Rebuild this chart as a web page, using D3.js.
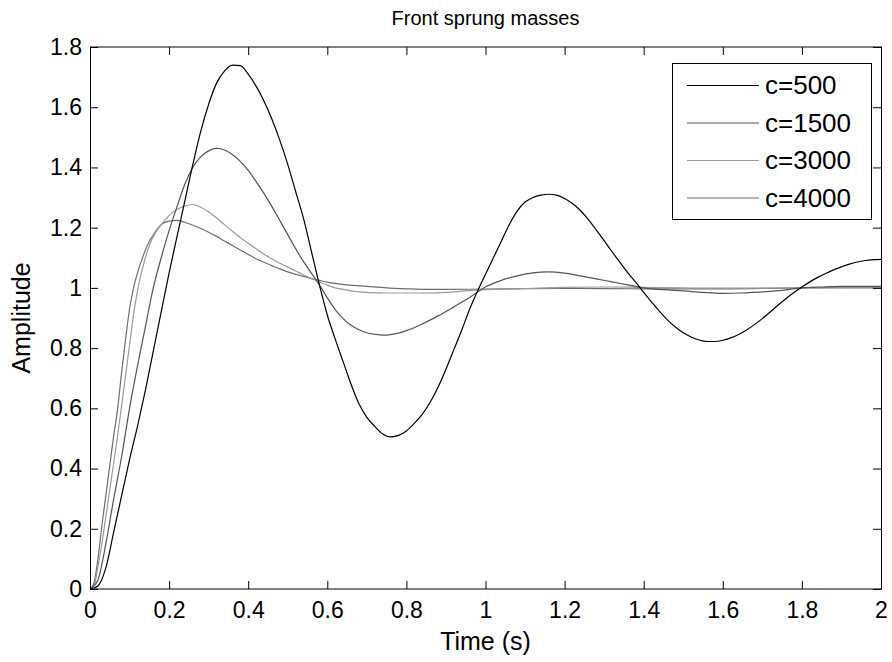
<!DOCTYPE html>
<html>
<head>
<meta charset="utf-8">
<script src="https://cdn.jsdelivr.net/npm/d3@7"></script>
<style>
    body { margin: 0; background: #fff; }
    svg { font-family: "Liberation Sans", Arial, sans-serif; }
    .axis-frame { fill: none; stroke: #000; stroke-width: 1; }
    .tick-mark { stroke: #000; stroke-width: 1; }
    .tick-label { font-size: 23px; fill: #000; }
    .axis-label { font-size: 25px; fill: #000; }
    .chart-title { font-size: 20px; fill: #000; }
    .legend-box { fill: #fff; stroke: #000; stroke-width: 1; }
    .legend-text { font-size: 26px; fill: #000; }
    .resp-line { fill: none; stroke-width: 1.2; }
</style>
</head>
<body>
<div id="chart-area"></div>
<script>

// tick labels
var xTicks = [0, 0.2, 0.4, 0.6, 0.8, 1, 1.2, 1.4, 1.6, 1.8, 2];
var yTicks = [0, 0.2, 0.4, 0.6, 0.8, 1, 1.2, 1.4, 1.6, 1.8];

var seriesNames = ["c=500", "c=1500", "c=3000", "c=4000"];
var seriesColors = ["#000000", "#555555", "#9a9a9a", "#6e6e6e"];

// c=500
var c500Time = [0,0.02,0.04,0.06,0.08,0.10,0.12,0.14,0.16,0.18,0.20,0.22,0.24,0.26,0.28,0.30,0.32,0.34,0.36,0.38,
    0.40,0.42,0.44,0.46,0.48,0.50,0.52,0.54,0.56,0.58,0.60,0.62,0.64,0.66,0.68,0.70,0.72,0.74,0.76,0.78,
    0.80,0.82,0.84,0.86,0.88,0.90,0.92,0.94,0.96,0.98,1.00,1.02,1.04,1.06,1.08,1.10,1.12,1.14,1.16,1.18,
    1.20,1.22,1.24,1.26,1.28,1.30,1.32,1.34,1.36,1.38,1.40,1.42,1.44,1.46,1.48,1.50,1.52,1.54,1.56,1.58,
    1.60,1.62,1.64,1.66,1.68,1.70,1.72,1.74,1.76,1.78,1.80,1.82,1.84,1.86,1.88,1.90,1.92,1.94,1.96,1.98,2.00];
var c500Amp = [0,0.01,0.07,0.19,0.31,0.43,0.54,0.66,0.79,0.92,1.05,1.17,1.29,1.41,1.52,1.61,1.68,1.72,1.74,1.738,
    1.71,1.67,1.62,1.56,1.49,1.41,1.32,1.23,1.12,1.01,0.91,0.83,0.755,0.68,0.615,0.57,0.54,0.515,0.505,0.51,
    0.525,0.55,0.58,0.62,0.67,0.73,0.795,0.86,0.93,0.99,1.045,1.10,1.155,1.21,1.255,1.285,1.30,1.308,1.311,1.308,
    1.297,1.28,1.257,1.227,1.193,1.157,1.12,1.085,1.05,1.018,0.985,0.953,0.922,0.894,0.87,0.851,0.837,0.827,0.822,0.822,
    0.826,0.834,0.845,0.86,0.878,0.898,0.92,0.943,0.965,0.985,1.003,1.02,1.035,1.048,1.06,1.07,1.079,1.086,1.091,1.094,1.095];

// c=1500
var c1500Time = [0,0.02,0.04,0.06,0.08,0.10,0.12,0.14,0.16,0.18,0.20,0.22,0.24,0.26,0.28,0.30,0.32,0.34,0.36,0.38,
    0.40,0.42,0.44,0.46,0.48,0.50,0.52,0.54,0.56,0.58,0.60,0.62,0.64,0.66,0.68,0.70,0.72,0.74,0.76,0.78,
    0.80,0.84,0.88,0.92,0.96,1.00,1.04,1.08,1.12,1.16,1.20,1.24,1.28,1.32,1.36,1.40,1.45,1.50,1.55,1.60,
    1.65,1.70,1.75,1.80,1.85,1.90,1.95,2.00];
var c1500Amp = [0,0.03,0.15,0.30,0.44,0.60,0.74,0.87,1.00,1.10,1.19,1.27,1.345,1.40,1.435,1.455,1.463,1.458,1.443,1.42,
    1.39,1.353,1.313,1.27,1.224,1.177,1.13,1.087,1.048,1.01,0.967,0.928,0.898,0.876,0.861,0.851,0.846,0.843,0.845,0.85,
    0.858,0.88,0.907,0.937,0.968,1.003,1.025,1.04,1.05,1.053,1.049,1.04,1.03,1.02,1.01,1.0,0.994,0.99,0.985,0.982,
    0.983,0.987,0.992,1.0,1.003,1.005,1.005,1.005];

// c=3000
var c3000Time = [0,0.01,0.02,0.03,0.04,0.05,0.06,0.07,0.08,0.09,0.10,0.11,0.12,0.13,0.14,0.15,0.16,0.18,0.20,0.22,
    0.24,0.26,0.28,0.30,0.32,0.34,0.36,0.38,0.40,0.42,0.44,0.46,0.48,0.50,0.52,0.54,0.56,0.58,0.60,0.62,
    0.64,0.66,0.70,0.75,0.80,0.85,0.90,0.95,1.0,1.1,1.2,1.3,1.4,1.5,1.6,1.8,2.0];
var c3000Amp = [0,0.01,0.074,0.15,0.24,0.33,0.42,0.51,0.61,0.71,0.81,0.91,0.99,1.05,1.10,1.14,1.17,1.21,1.24,1.26,
    1.272,1.277,1.268,1.252,1.232,1.21,1.188,1.167,1.148,1.13,1.112,1.096,1.082,1.069,1.056,1.043,1.031,1.02,1.009,1.0,
    0.995,0.99,0.985,0.983,0.983,0.983,0.985,0.99,0.994,0.998,1.002,1.003,1.002,1.0,0.999,1.0,1.0];

// c=4000
var c4000Time = [0,0.01,0.02,0.03,0.04,0.05,0.06,0.07,0.08,0.09,0.10,0.11,0.12,0.13,0.14,0.15,0.16,0.17,0.18,0.20,
    0.22,0.24,0.26,0.28,0.30,0.32,0.34,0.36,0.38,0.40,0.42,0.44,0.46,0.48,0.50,0.52,0.54,0.56,0.58,0.60,
    0.65,0.70,0.75,0.80,0.85,0.90,1.0,1.2,1.4,1.6,1.8,2.0];
var c4000Amp = [0,0.02,0.10,0.21,0.31,0.41,0.51,0.60,0.72,0.83,0.93,1.0,1.05,1.09,1.125,1.155,1.175,1.195,1.21,1.222,
    1.224,1.218,1.208,1.197,1.185,1.171,1.156,1.141,1.126,1.111,1.097,1.085,1.074,1.063,1.053,1.045,1.038,1.031,1.025,1.019,
    1.01,1.005,1.0,0.997,0.995,0.995,0.996,0.998,0.997,0.997,1.0,1.001];


/*
 * StepResponseVis - Object constructor function
 * @param _parentElement   -- the HTML element in which to draw the visualization
 * @param _data            -- array of { name, color, time, amp }
 */

StepResponseVis = function(_parentElement, _data){
    this.parentElement = _parentElement;
    this.data = _data;

    this.initVis();
}


/*
 * Initialize visualization (static content, e.g. SVG area or axes)
 */

StepResponseVis.prototype.initVis = function(){
    var vis = this;

    vis.margin = { top: 47, right: 11, bottom: 73, left: 90 };
    vis.width = 892 - vis.margin.left - vis.margin.right;
    vis.height = 662 - vis.margin.top - vis.margin.bottom;
    vis.tickSize = 8;

    // SVG drawing area
    vis.svg = d3.select("#" + vis.parentElement).append("svg")
        .attr("width", 892)
        .attr("height", 662)
        .append("g")
        .attr("transform", "translate(" + vis.margin.left + "," + vis.margin.top + ")");

    // Scales
    vis.x = d3.scaleLinear()
        .domain([0, 2])
        .range([0, vis.width]);

    vis.y = d3.scaleLinear()
        .domain([0, 1.8])
        .range([vis.height, 0]);

    // Axes, MATLAB style: ticks inside on all four sides
    vis.xAxisBottom = d3.axisBottom(vis.x)
        .tickValues(xTicks)
        .tickSizeInner(-vis.tickSize)
        .tickSizeOuter(0)
        .tickPadding(13)
        .tickFormat(d3.format("~g"));

    vis.xAxisTop = d3.axisTop(vis.x)
        .tickValues(xTicks)
        .tickSizeInner(-vis.tickSize)
        .tickSizeOuter(0)
        .tickFormat("");

    vis.yAxisLeft = d3.axisLeft(vis.y)
        .tickValues(yTicks)
        .tickSizeInner(-vis.tickSize)
        .tickSizeOuter(0)
        .tickPadding(8)
        .tickFormat(d3.format("~g"));

    vis.yAxisRight = d3.axisRight(vis.y)
        .tickValues(yTicks)
        .tickSizeInner(-vis.tickSize)
        .tickSizeOuter(0)
        .tickFormat("");

    vis.line = d3.line()
        .x(function(d) { return vis.x(d.t); })
        .y(function(d) { return vis.y(d.v); })
        .curve(d3.curveMonotoneX);

    vis.wrangleData();
}


/*
 * Data wrangling
 */

StepResponseVis.prototype.wrangleData = function(){
    var vis = this;

    vis.displayData = vis.data.map(function(s) {
        return {
            name: s.name,
            color: s.color,
            values: s.time.map(function(t, i) { return { t: t, v: s.amp[i] }; })
        };
    });

    vis.updateVis();
}


/*
 * The drawing function
 */

StepResponseVis.prototype.updateVis = function(){
    var vis = this;

    vis.svg.append("clipPath").attr("id", "plot-clip")
        .append("rect")
        .attr("width", vis.width)
        .attr("height", vis.height);

    // response curves
    vis.svg.append("g")
        .attr("clip-path", "url(#plot-clip)")
        .selectAll(".resp-line")
        .data(vis.displayData.slice().reverse())
        .enter()
        .append("path")
        .attr("class", "resp-line")
        .attr("stroke", function(d) { return d.color; })
        .attr("d", function(d) { return vis.line(d.values); });

    // axes
    var gb = vis.svg.append("g")
        .attr("transform", "translate(0," + vis.height + ")")
        .call(vis.xAxisBottom);
    var gt = vis.svg.append("g").call(vis.xAxisTop);
    var gl = vis.svg.append("g").call(vis.yAxisLeft);
    var gr = vis.svg.append("g")
        .attr("transform", "translate(" + vis.width + ",0)")
        .call(vis.yAxisRight);

    [gb, gt, gl, gr].forEach(function(g) {
        g.select(".domain").remove();
        g.selectAll(".tick line").attr("class", "tick-mark").attr("stroke", "#000");
        g.selectAll(".tick text").attr("class", "tick-label").attr("fill", "#000");
        g.attr("font-family", null).attr("font-size", null);
    });

    gb.selectAll(".tick text").attr("dy", "0.71em");

    // frame
    vis.svg.append("rect")
        .attr("class", "axis-frame")
        .attr("x", 0.5)
        .attr("y", 0)
        .attr("width", vis.width)
        .attr("height", vis.height);

    // title and labels
    vis.svg.append("text")
        .attr("class", "chart-title")
        .attr("x", vis.width / 2)
        .attr("y", -22)
        .attr("text-anchor", "middle")
        .text("Front sprung masses");

    vis.svg.append("text")
        .attr("class", "axis-label")
        .attr("x", vis.width / 2)
        .attr("y", vis.height + 61)
        .attr("text-anchor", "middle")
        .text("Time (s)");

    vis.svg.append("text")
        .attr("class", "axis-label")
        .attr("transform", "translate(-60," + (vis.height / 2) + ") rotate(-90)")
        .attr("text-anchor", "middle")
        .text("Amplitude");

    // legend
    var legendX = 582, legendY = 16, legendW = 199, legendH = 156, rowH = 37.5;

    var legend = vis.svg.append("g")
        .attr("class", "legend")
        .attr("transform", "translate(" + legendX + "," + legendY + ")");

    legend.append("rect")
        .attr("class", "legend-box")
        .attr("x", 0.5)
        .attr("y", 0.5)
        .attr("width", legendW)
        .attr("height", legendH);

    var rows = legend.selectAll(".legend-row")
        .data(vis.displayData)
        .enter()
        .append("g")
        .attr("class", "legend-row")
        .attr("transform", function(d, i) { return "translate(0," + (22 + i * rowH) + ")"; });

    rows.append("line")
        .attr("x1", 15)
        .attr("x2", 87)
        .attr("y1", 0.5)
        .attr("y2", 0.5)
        .attr("stroke", function(d) { return d.color; })
        .attr("stroke-width", 1.2);

    rows.append("text")
        .attr("class", "legend-text")
        .attr("x", 93)
        .attr("y", 0)
        .attr("dy", "0.35em")
        .text(function(d) { return d.name; });
}


var seriesData = [
    { name: seriesNames[0], color: seriesColors[0], time: c500Time, amp: c500Amp },
    { name: seriesNames[1], color: seriesColors[1], time: c1500Time, amp: c1500Amp },
    { name: seriesNames[2], color: seriesColors[2], time: c3000Time, amp: c3000Amp },
    { name: seriesNames[3], color: seriesColors[3], time: c4000Time, amp: c4000Amp }
];

var responseVis = new StepResponseVis("chart-area", seriesData);

</script>
</body>
</html>
